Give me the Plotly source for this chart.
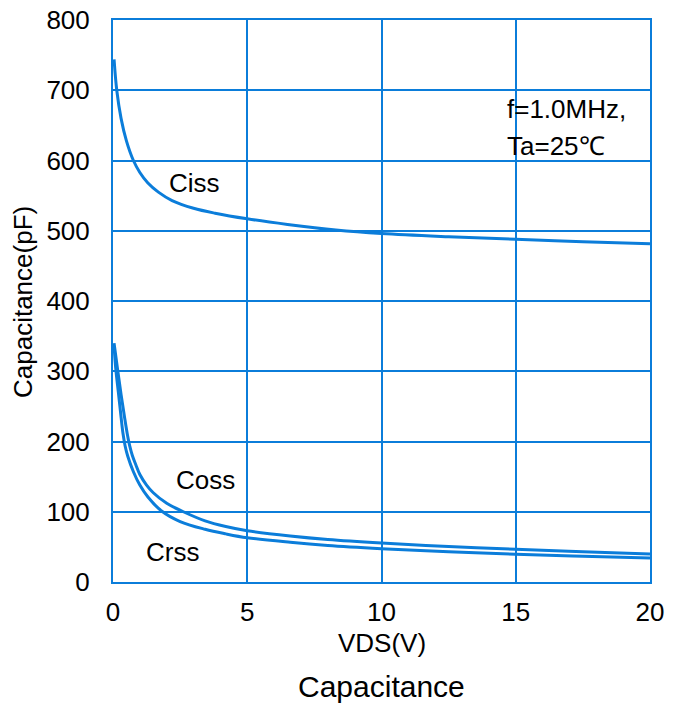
import plotly.graph_objects as go

# Data
ciss_v = [0.04, 0.14, 0.3, 0.5, 0.76, 1.0, 1.3, 1.69, 2.2, 3.0, 3.8, 5.0, 6.5, 8.3, 10.0, 12.5, 15.0, 17.5, 20.0]
ciss_c = [744, 700, 660, 628, 600, 583, 568, 555, 543, 532, 525, 517, 509, 501, 496, 491.5, 488, 484.5, 481.5]

coss_v = [0.04, 0.18, 0.3, 0.42, 0.53, 0.62, 0.72, 0.85, 1.0, 1.25, 1.5, 2.0, 2.62, 3.43, 4.2, 5.0, 6.6, 8.0, 10.0, 12.5, 15.0, 17.5, 20.0]
coss_c = [340, 300, 267, 237, 211, 194, 180, 167, 153, 138, 127, 112, 100, 87, 79, 73, 65.5, 60.5, 55.5, 50.5, 46.5, 43, 40]

crss_v = [0.04, 0.1, 0.2, 0.28, 0.37, 0.45, 0.55, 0.76, 1.0, 1.3, 1.81, 2.5, 3.43, 4.2, 5.0, 6.6, 8.0, 10.0, 12.5, 15.0, 17.5, 20.0]
crss_c = [336, 305, 270, 242, 212, 194, 179, 157, 138, 121, 101, 86, 75, 68.5, 63, 56.5, 52, 47.5, 43, 39.5, 36.5, 34]

x_ticks = [0, 5, 10, 15, 20]
y_ticks = [0, 100, 200, 300, 400, 500, 600, 700, 800]

BLUE = "#0B7DDA"
FONT = "Liberation Sans, Arial, sans-serif"
FS = 26

fig = go.Figure()
for v, c in [(ciss_v, ciss_c), (coss_v, coss_c), (crss_v, crss_c)]:
    fig.add_trace(go.Scatter(x=v, y=c, mode="lines",
                             line=dict(color=BLUE, width=3, shape="spline", smoothing=1.0),
                             showlegend=False, hoverinfo="skip"))

axis_common = dict(showgrid=True, gridcolor=BLUE, gridwidth=2, showline=True, linecolor=BLUE, linewidth=2,
                   mirror=True, ticks="", zeroline=False, automargin=False,
                   tickfont=dict(family=FONT, size=FS, color="black"))

fig.update_layout(
    width=677, height=705,
    margin=dict(l=113, r=27, t=20, b=123),
    paper_bgcolor="white", plot_bgcolor="white",
    xaxis=dict(range=[0, 20], tickvals=x_ticks, ticklabelstandoff=6, **axis_common),
    yaxis=dict(range=[0, 800], tickvals=y_ticks, ticklabelstandoff=16, **axis_common),
    font=dict(family=FONT, color="black"),
)


def px2x(px):
    return (px - 113) / 537 * 20


def px2y(py):
    return (582 - py) / 562 * 800


for text, x, y in [("Ciss", 194, 183), ("Coss", 205, 480), ("Crss", 172.5, 552)]:
    fig.add_annotation(text=text, x=px2x(x), y=px2y(y), xref="x", yref="y", showarrow=False,
                       font=dict(family=FONT, size=FS, color="black"))

fig.add_annotation(text="f=1.0MHz,", x=px2x(505), y=px2y(109), xref="x", yref="y",
                   xanchor="left", showarrow=False, font=dict(family=FONT, size=FS, color="black"))
fig.add_annotation(text="Ta=25℃", x=px2x(505), y=px2y(146), xref="x", yref="y",
                   xanchor="left", showarrow=False, font=dict(family=FONT, size=FS, color="black"))

fig.add_annotation(text="VDS(V)", x=0.5, y=(582 - 643) / 562, xref="paper", yref="paper", showarrow=False,
                   yanchor="middle", font=dict(family=FONT, size=FS, color="black"))
fig.add_annotation(text="Capacitance", x=0.5, y=(582 - 686) / 562, xref="paper", yref="paper", showarrow=False,
                   yanchor="middle", borderpad=0, font=dict(family=FONT, size=30, color="black"))
fig.add_annotation(text="Capacitance(pF)", x=(23 - 113) / 537, y=(582 - 302) / 562, xref="paper", yref="paper",
                   showarrow=False, textangle=-90, xanchor="center", yanchor="middle",
                   font=dict(family=FONT, size=FS, color="black"))

fig.write_html("out.html")
